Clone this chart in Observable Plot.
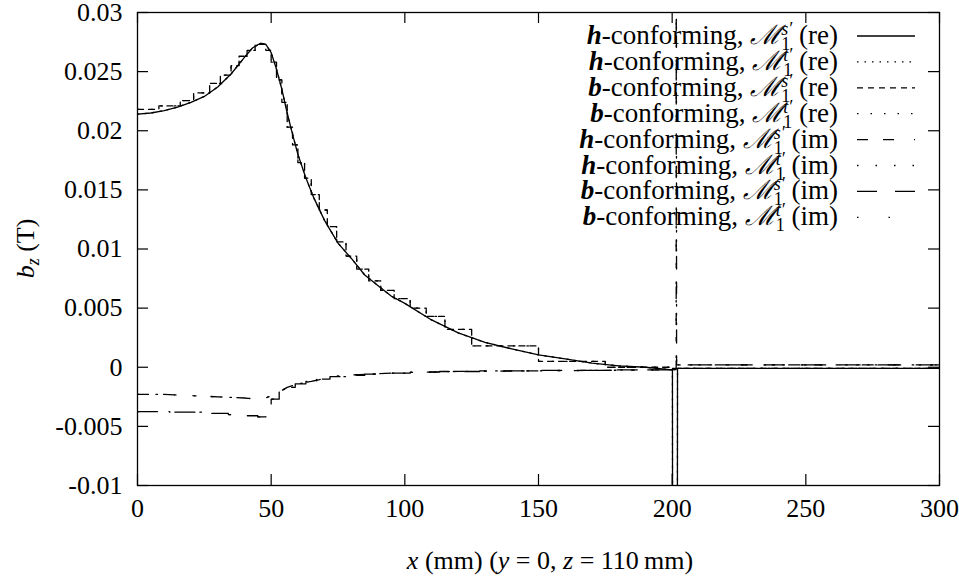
<!DOCTYPE html>
<html><head><meta charset="utf-8">
<script src="https://cdn.jsdelivr.net/npm/d3@7"></script>
<script src="https://cdn.jsdelivr.net/npm/@observablehq/plot@0.6"></script>
<style>body{margin:0;background:#fff}</style>
</head><body><div id="chart"></div>
<script>
// ---- tick values / labels ----
const xTicks = [0, 50, 100, 150, 200, 250, 300];
const yTicks = [-0.01, -0.005, 0, 0.005, 0.01, 0.015, 0.02, 0.025, 0.03];
const yTickLabels = ["-0.01", "-0.005", "0", "0.005", "0.01", "0.015", "0.02", "0.025", "0.03"];

// ---- h-conforming, real part (smooth) ----
const hX_re = [0,5,10,15,20,25,30,35,40,43,46,48,50,52,54,56,58,60,63,66,70,75,80,85,90,95,100,110,120,130,140,150,160,170,180,190,199,200.1,200.2,201.9,202,210,230,250,270,300];
const hY_re = [0.0214,0.0215,0.0217,0.0220,0.0224,0.0229,0.0237,0.0248,0.0262,0.0270,0.0274,0.0273,0.0266,0.0252,0.0235,0.0215,0.0197,0.0180,0.0160,0.0143,0.0124,0.0105,0.0092,0.0078,0.0069,0.0060,0.0054,0.0040,0.0029,0.0021,0.00155,0.00105,0.0007,0.00035,0.00012,0.0,-0.0002,-0.0002,-0.03,-0.03,-0.0001,-0.0001,-0.0001,-0.0001,-0.0001,-0.0001];

// ---- b-conforming, real part (piecewise constant) ----
const bX_re = [0,8,16,21,27,31,35,38,41,44,48,50,52,54,56,58,60,62.5,65,68,71,74.5,78,82,86.5,91,96,102,108,115,125,150,175,200,202,300];
const bY_re = [0.0218,0.0221,0.02255,0.0232,0.0240,0.0247,0.0255,0.0263,0.0268,0.0273,0.0268,0.0258,0.0243,0.0224,0.0203,0.0188,0.0173,0.0160,0.0146,0.0133,0.0119,0.0106,0.0094,0.0083,0.0073,0.0065,0.0058,0.0050,0.0043,0.0032,0.0018,0.0005,0.0,-0.0001,-0.0001,-0.0001];

// ---- h-conforming, imaginary part (smooth) ----
const hX_im = [0,10,20,30,40,45,48,50,53,56,60,65,70,75,80,90,100,120,150,180,201.5,201.55,201.65,210,250,300];
const hY_im = [-0.0023,-0.0023,-0.0024,-0.0025,-0.0026,-0.0027,-0.0026,-0.0024,-0.0021,-0.0017,-0.0014,-0.0012,-0.00095,-0.00075,-0.00065,-0.00055,-0.00045,-0.00035,-0.0003,-0.00025,-0.0002,0.05,0.0002,0.0002,0.0002,0.0002];

// ---- b-conforming, imaginary part (piecewise constant) ----
const bX_im = [0,12,24,34,40,45,48,50,53,56,59,63,67,72,78,85,93,102,113,128,150,175,200,202,300];
const bY_im = [-0.00375,-0.0038,-0.0039,-0.0040,-0.0041,-0.0042,-0.0034,-0.0027,-0.0021,-0.0017,-0.0014,-0.0012,-0.0010,-0.0008,-0.00068,-0.00058,-0.0005,-0.00042,-0.00036,-0.00031,-0.00027,-0.00023,-0.0002,0.0002,0.0002];

// ---- series (M1^t' results coincide with M1^s' at this scale) ----
const seriesForm   = ["h","h","b","b","h","h","b","b"];
const seriesMesh   = ["s","t","s","t","s","t","s","t"];
const seriesPart   = ["re","re","re","re","im","im","im","im"];
const seriesX      = [hX_re, hX_re, bX_re, bX_re, hX_im, hX_im, bX_im, bX_im];
const seriesY      = [hY_re, hY_re, bY_re, bY_re, hY_im, hY_im, bY_im, bY_im];

// ---- styles ----
const seriesDash  = [null, "1.5,6", "6,5", "1.5,12", "11,15,11,20,1.5,15", "1.5,17", "20,18", "1.5,30"];
const seriesCurve = ["linear","linear","step-after","step-after","linear","linear","step-after","step-after"];

const FONT = "'Liberation Serif', 'DejaVu Serif', serif";
const W = 959, H = 579, mL = 137, mR = 20, mT = 12, mB = 94;
const pw = W - mL - mR, ph = H - mT - mB, tick = 11;

const lineMarks = seriesX.map((xs, i) => {
  const rows = xs.map((x, j) => ({x, y: seriesY[i][j]}));
  return Plot.line(rows, {x: "x", y: "y", curve: seriesCurve[i], stroke: "black",
    strokeWidth: 1.3, strokeDasharray: seriesDash[i], clip: true});
});

const plot = Plot.plot({
  width: W, height: H,
  marginLeft: mL, marginRight: mR, marginTop: mT, marginBottom: mB,
  x: {domain: [0, 300]},
  y: {domain: [-0.01, 0.03]},
  style: {fontFamily: FONT, fontSize: "26px", background: "white", color: "black"},
  marks: [
    Plot.axisX(xTicks, {tickSize: 0, tickPadding: 13, tickFormat: d => String(d), label: null, fill: "black"}),
    Plot.axisY(yTicks, {tickSize: 0, tickPadding: 15, tickFormat: d => yTickLabels[yTicks.indexOf(d)], label: null, fill: "black"}),
    Plot.tickY(yTicks, {y: d => d, insetRight: pw - tick, stroke: "black", strokeWidth: 1.2}),
    Plot.tickY(yTicks, {y: d => d, insetLeft: pw - tick, stroke: "black", strokeWidth: 1.2}),
    Plot.tickX(xTicks, {x: d => d, insetTop: ph - tick, stroke: "black", strokeWidth: 1.2}),
    Plot.tickX(xTicks, {x: d => d, insetBottom: ph - tick, stroke: "black", strokeWidth: 1.2}),
    ...lineMarks,
    Plot.frame({stroke: "black", strokeWidth: 1.3})
  ]
});
document.getElementById("chart").appendChild(plot);

// ---- titles and legend (real text) ----
const svg = d3.select(plot);
const FS = 26, SFS = 18;
const ytitle = svg.append("text")
  .attr("transform", `translate(34,${mT + ph/2}) rotate(-90)`)
  .attr("text-anchor", "middle").attr("font-size", FS).attr("fill", "black");
ytitle.append("tspan").attr("font-style", "italic").text("b");
ytitle.append("tspan").attr("font-style", "italic").attr("font-size", SFS).attr("dy", 5).text("z");
ytitle.append("tspan").attr("dy", -5).text(" (T)");

const xtitle = svg.append("text")
  .attr("x", 550).attr("y", 569)
  .attr("text-anchor", "middle").attr("font-size", FS).attr("fill", "black");
xtitle.append("tspan").attr("font-style", "italic").text("x");
xtitle.append("tspan").text(" (mm) (");
xtitle.append("tspan").attr("font-style", "italic").text("y");
xtitle.append("tspan").text(" = 0, ");
xtitle.append("tspan").attr("font-style", "italic").text("z");
xtitle.append("tspan").text(" = 110\u2009mm)");

const leg = svg.append("g");
const legY0 = 36, legDY = 25.9, legTextX = 838, legX1 = 857, legX2 = 915;
seriesForm.forEach((f, i) => {
  const y = legY0 + i * legDY;
  const t = leg.append("text").attr("x", legTextX).attr("y", y + 8)
    .attr("text-anchor", "end").attr("font-size", FS + 1).attr("fill", "black");
  t.append("tspan").attr("font-style", "italic").attr("font-weight", "bold").text(f);
  t.append("tspan").text("-conforming, ");
  t.append("tspan").attr("font-style", "italic").text("\u2133");
  t.append("tspan").attr("font-size", SFS).attr("dy", 6).text("1");
  t.append("tspan").attr("font-size", SFS).attr("font-style", "italic").attr("dy", -15).attr("dx", -9).text(seriesMesh[i] + "\u2032");
  t.append("tspan").attr("dy", 9).text(" (" + seriesPart[i] + ")");
  leg.append("line").attr("x1", legX1).attr("x2", legX2).attr("y1", y).attr("y2", y)
    .attr("stroke", "black").attr("stroke-width", 1.3)
    .attr("stroke-dasharray", seriesDash[i]);
});

// force the serif family directly on every text node (inline, important)
plot.style.setProperty("font-family", FONT, "important");
plot.querySelectorAll("text, tspan, g").forEach(el => {
  el.setAttribute("font-family", "Liberation Serif");
  el.style.setProperty("font-family", FONT, "important");
});
</script>
</body></html>
